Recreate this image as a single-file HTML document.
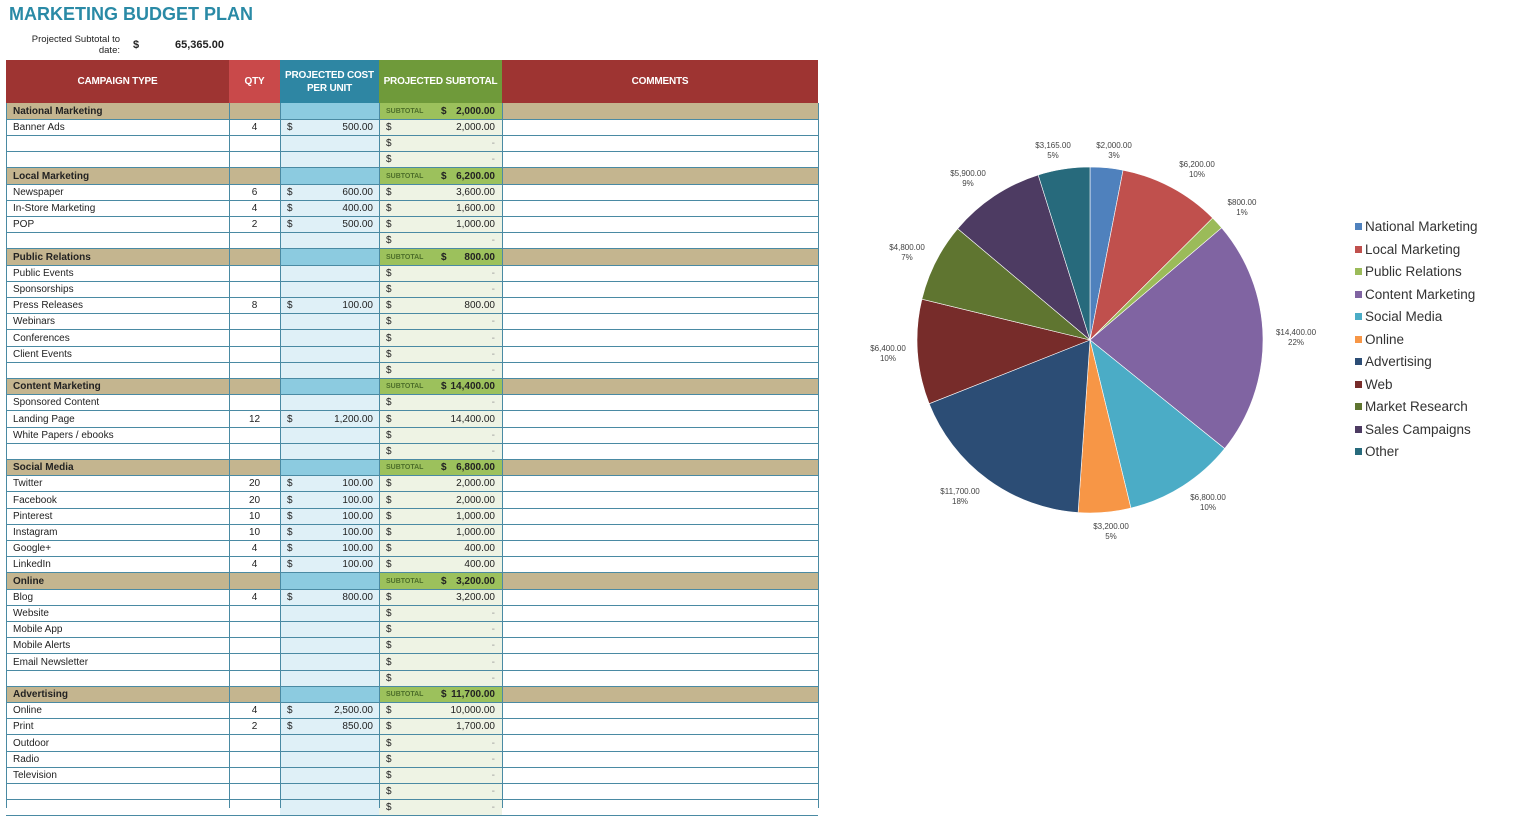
<!DOCTYPE html>
<html><head><meta charset="utf-8"><style>
*{margin:0;padding:0;box-sizing:border-box}
body{width:1517px;height:808px;background:#fff;position:relative;overflow:hidden;font-family:"Liberation Sans",sans-serif;color:#222}
.a{position:absolute;white-space:nowrap}
.cell{position:absolute;font-size:10px;padding:0 7px;overflow:hidden;display:flex;align-items:center}
.h{color:#fff;font-weight:bold;font-size:10px;display:flex;align-items:center;justify-content:center;text-align:center;line-height:13px;position:absolute;letter-spacing:-0.2px}
.lg{position:absolute;font-size:13.5px;color:#333;left:1355px}
.lg i{display:inline-block;width:7px;height:7px;margin-right:3px;vertical-align:1px}
.pl{position:absolute;font-size:8px;color:#444;text-align:center;line-height:10px;transform:translateX(-50%)}
.hl{position:absolute;left:6px;width:812px;height:1px;background:#4a8aa3}
.vl{position:absolute;top:103px;height:705px;width:1px;background:#4a8aa3}
</style></head><body>
<div class="a" style="left:9px;top:4px;font-size:18px;font-weight:bold;color:#2a8aa6">MARKETING BUDGET PLAN</div>
<div class="a" style="left:20px;top:34px;font-size:9.5px;text-align:right;line-height:11px;width:100px">Projected Subtotal to<br>date:</div>
<div class="a" style="left:133px;top:39px;font-size:11px;font-weight:bold">$</div>
<div class="a" style="left:175px;top:39px;font-size:11px;font-weight:bold">65,365.00</div>
<div class="h" style="left:6px;top:60px;width:223px;height:43px;background:#9e3432">CAMPAIGN TYPE</div>
<div class="h" style="left:229px;top:60px;width:51px;height:43px;background:#c9494a">QTY</div>
<div class="h" style="left:280px;top:60px;width:99px;height:43px;background:#2e86a3">PROJECTED COST<br>PER UNIT</div>
<div class="h" style="left:379px;top:60px;width:123px;height:43px;background:#6f9a3a">PROJECTED SUBTOTAL</div>
<div class="h" style="left:502px;top:60px;width:316px;height:43px;background:#9e3432">COMMENTS</div>
<div id="t"></div>
<svg class="a" style="left:0;top:0" width="1517" height="808" id="pie"></svg>
<div id="lab"></div>
<script>
var rows=[
['S','National Marketing','2,000.00'],['R','Banner Ads','4','500.00','2,000.00'],['R'],['R'],
['S','Local Marketing','6,200.00'],['R','Newspaper','6','600.00','3,600.00'],['R','In-Store Marketing','4','400.00','1,600.00'],['R','POP','2','500.00','1,000.00'],['R'],
['S','Public Relations','800.00'],['R','Public Events'],['R','Sponsorships'],['R','Press Releases','8','100.00','800.00'],['R','Webinars'],['R','Conferences'],['R','Client Events'],['R'],
['S','Content Marketing','14,400.00'],['R','Sponsored Content'],['R','Landing Page','12','1,200.00','14,400.00'],['R','White Papers / ebooks'],['R'],
['S','Social Media','6,800.00'],['R','Twitter','20','100.00','2,000.00'],['R','Facebook','20','100.00','2,000.00'],['R','Pinterest','10','100.00','1,000.00'],['R','Instagram','10','100.00','1,000.00'],['R','Google+','4','100.00','400.00'],['R','LinkedIn','4','100.00','400.00'],
['S','Online','3,200.00'],['R','Blog','4','800.00','3,200.00'],['R','Website'],['R','Mobile App'],['R','Mobile Alerts'],['R','Email Newsletter'],['R'],
['S','Advertising','11,700.00'],['R','Online','4','2,500.00','10,000.00'],['R','Print','2','850.00','1,700.00'],['R','Outdoor'],['R','Radio'],['R','Television'],['R'],['R']];
var h='',H=16.2;
rows.forEach(function(r,i){var y=103+i*H;var s=r[0]=='S';
var c=function(x,w,bg,inner,st){h+='<div class="cell" style="left:'+x+'px;top:'+y.toFixed(1)+'px;width:'+w+'px;height:'+(H+0.6).toFixed(1)+'px;background:'+bg+';'+(st||'')+'">'+inner+'</div>';};
if(s){c(6,223,'#c4b58f',r[1],'font-weight:bold');c(229,51,'#c4b58f','');c(280,99,'#8ccbe0','');
c(379,123,'#9cc15c','<span style="font-size:7px;color:#4d6e2a;font-weight:bold">SUBTOTAL</span><span style="position:absolute;left:62px;font-weight:bold">$</span><span style="position:absolute;right:7px;font-weight:bold">'+r[2]+'</span>');c(502,316,'#c4b58f','');}
else{c(6,223,'#fff',r[1]||'');c(229,51,'#fff',r[2]||'','justify-content:center');
c(280,99,'#dff0f7',r[3]?'$<span style="position:absolute;right:6px">'+r[3]+'</span>':'');
c(379,123,'#eef3e4','$<span style="position:absolute;right:7px">'+(r[4]||'<span style="color:#999">-</span>')+'</span>');c(502,316,'#fff','');}
});
for(var i=1;i<=44;i++){h+='<div class="hl" style="top:'+Math.round(103+i*H-0.5)+'px"></div>';}
[6,229,280,379,502,818].forEach(function(x){h+='<div class="vl" style="left:'+x+'px"></div>';});
document.getElementById('t').innerHTML=h;
var vals=[2000,6200,800,14400,6800,3200,11700,6400,4800,5900,3165];
var cols=['#4f81bd','#c0504d','#9bbb59','#8064a2','#4bacc6','#f79646','#2c4d75','#772c2a','#5f7530','#4d3b62','#276a7c'];
var tot=0;vals.forEach(function(v){tot+=v});var cx=1090,cy=340,R=173,a=0,p='';
vals.forEach(function(v,i){var a2=a+v/tot*2*Math.PI;
var x1=cx+R*Math.sin(a),y1=cy-R*Math.cos(a),x2=cx+R*Math.sin(a2),y2=cy-R*Math.cos(a2);
p+='<path d="M'+cx+','+cy+'L'+x1.toFixed(2)+','+y1.toFixed(2)+'A'+R+','+R+' 0 '+(a2-a>Math.PI?1:0)+' 1 '+x2.toFixed(2)+','+y2.toFixed(2)+'Z" fill="'+cols[i]+'" stroke="#fff" stroke-width="0.6"/>';a=a2;});
document.getElementById('pie').innerHTML=p;
var L=[['$3,165.00','5%',1053,141],['$2,000.00','3%',1114,141],['$6,200.00','10%',1197,160],['$800.00','1%',1242,198],['$14,400.00','22%',1296,328],['$6,800.00','10%',1208,493],['$3,200.00','5%',1111,522],['$11,700.00','18%',960,487],['$6,400.00','10%',888,344],['$4,800.00','7%',907,243],['$5,900.00','9%',968,169]];
var lh='';L.forEach(function(l){lh+='<div class="pl" style="left:'+l[2]+'px;top:'+l[3]+'px">'+l[0]+'<br>'+l[1]+'</div>';});
var names=['National Marketing','Local Marketing','Public Relations','Content Marketing','Social Media','Online','Advertising','Web','Market Research','Sales Campaigns','Other'];
names.forEach(function(n,i){lh+='<div class="lg" style="top:'+(219+i*22.5).toFixed(1)+'px"><i style="background:'+cols[i]+'"></i>'+n+'</div>';});
document.getElementById('lab').innerHTML=lh;
</script>
</body></html>
